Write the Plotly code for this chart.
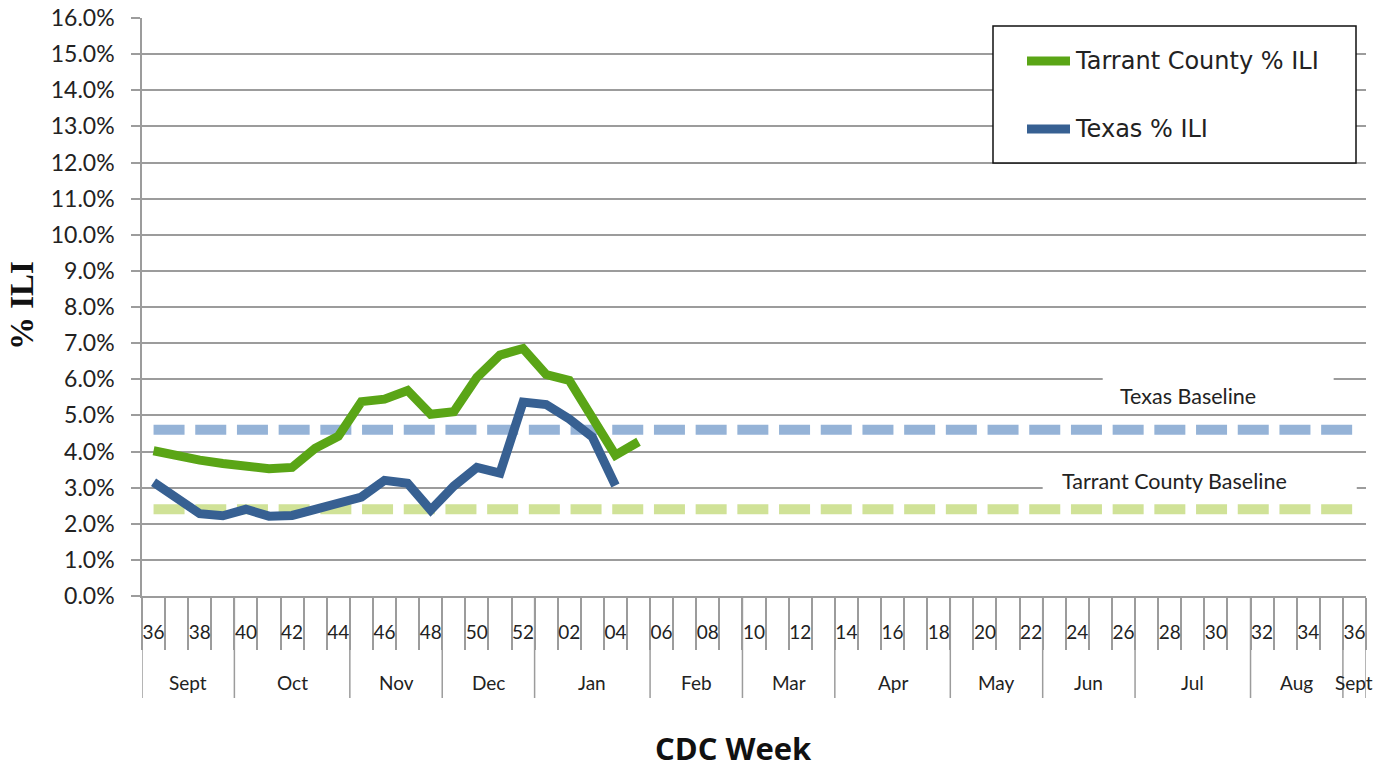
import plotly.graph_objects as go

# ---------------- data ----------------
weeks = ["36", "37", "38", "39", "40", "41", "42", "43", "44", "45", "46", "47", "48",
         "49", "50", "51", "52", "01", "02", "03", "04", "05", "06", "07", "08", "09",
         "10", "11", "12", "13", "14", "15", "16", "17", "18", "19", "20", "21", "22",
         "23", "24", "25", "26", "27", "28", "29", "30", "31", "32", "33", "34", "35", "36"]

tarrant_ili = [4.02, 3.88, 3.76, 3.67, 3.60, 3.52, 3.56, 4.09, 4.42, 5.38, 5.45, 5.69,
               5.03, 5.10, 6.05, 6.67, 6.85, 6.13, 5.97, 4.90, 3.90, 4.27]
texas_ili = [3.15, 2.72, 2.28, 2.22, 2.40, 2.21, 2.23, 2.40, 2.57, 2.74, 3.20, 3.12,
             2.38, 3.04, 3.56, 3.40, 5.37, 5.30, 4.90, 4.40, 3.06]

texas_baseline = 4.6
tarrant_baseline = 2.4

months = ["Sept", "Oct", "Nov", "Dec", "Jan", "Feb", "Mar", "Apr", "May", "Jun", "Jul", "Aug", "Sept"]
month_weeks = [4, 5, 4, 4, 5, 4, 4, 5, 4, 4, 5, 4, 1]

y_ticks = [i for i in range(0, 17)]

# ---------------- styling ----------------
GREEN = "#5AA516"
BLUE = "#376092"
LBLUE = "#95B3D7"
LGREEN = "#D0E297"
GRID = "#9C9C9C"
TXT = "#222222"

n = len(weeks)
xs = list(range(n))

fig = go.Figure()

fig.add_trace(go.Scatter(x=xs, y=[texas_baseline / 100] * n, mode="lines",
                         line=dict(color=LBLUE, width=10, dash="31px,10.7px"),
                         name="Texas Baseline", showlegend=False, hoverinfo="skip"))
fig.add_trace(go.Scatter(x=xs, y=[tarrant_baseline / 100] * n, mode="lines",
                         line=dict(color=LGREEN, width=10, dash="31px,10.7px"),
                         name="Tarrant County Baseline", showlegend=False, hoverinfo="skip"))
fig.add_trace(go.Scatter(x=xs[:len(tarrant_ili)], y=[v / 100 for v in tarrant_ili],
                         mode="lines", line=dict(color=GREEN, width=9),
                         name="Tarrant County % ILI", showlegend=False))
fig.add_trace(go.Scatter(x=xs[:len(texas_ili)], y=[v / 100 for v in texas_ili],
                         mode="lines", line=dict(color=BLUE, width=9),
                         name="Texas % ILI", showlegend=False))

# month boundaries + labels
shapes = []
annotations = []
start = -0.5
bounds = [start]
for m, w in zip(months, month_weeks):
    end = start + w
    annotations.append(dict(x=(start + end) / 2, y=-0.1505, xref="x", yref="paper",
                            text=m, showarrow=False, yanchor="middle",
                            font=dict(family="Lato", size=19, color=TXT)))
    bounds.append(end)
    start = end
for b in bounds:
    shapes.append(dict(type="line", xref="x", yref="paper", x0=b, x1=b, y0=0, y1=-0.1765,
                       line=dict(color=GRID, width=1.5), layer="above"))

# white boxes behind baseline labels (cover grid)
shapes.append(dict(type="rect", xref="x", yref="y", x0=41.1, x1=51.1, y0=0.051, y1=0.0615,
                   fillcolor="white", line=dict(width=0), layer="between"))
shapes.append(dict(type="rect", xref="x", yref="y", x0=38.5, x1=52.1, y0=0.027, y1=0.036,
                   fillcolor="white", line=dict(width=0), layer="between"))
annotations.append(dict(x=44.8, y=0.0554, xref="x", yref="y", text="Texas Baseline",
                        showarrow=False, font=dict(family="Lato", size=21.5, color=TXT)))
annotations.append(dict(x=44.2, y=0.0319, xref="x", yref="y", text="Tarrant County Baseline",
                        showarrow=False, font=dict(family="Lato", size=21.5, color=TXT)))


# legend (manual box)
def px_x(p):
    return (p - 142) / 1224


def px_y(p):
    return (596 - p) / 578


shapes.append(dict(type="rect", xref="paper", yref="paper", x0=px_x(993), x1=px_x(1356),
                   y0=px_y(163), y1=px_y(26), fillcolor="white",
                   line=dict(color="#111111", width=1.5), layer="above"))
for yy, col, label in [(61, GREEN, "Tarrant County % ILI"), (129, BLUE, "Texas % ILI")]:
    shapes.append(dict(type="line", xref="paper", yref="paper", x0=px_x(1027), x1=px_x(1070),
                       y0=px_y(yy), y1=px_y(yy), line=dict(color=col, width=9), layer="above"))
    annotations.append(dict(x=px_x(1073), y=px_y(yy), xref="paper", yref="paper", text=label,
                            showarrow=False, xanchor="left", yanchor="middle",
                            font=dict(family="DejaVu Sans", size=24, color=TXT)))

# axis titles
annotations.append(dict(x=px_x(22), y=px_y(306), xref="paper", yref="paper", text="<b>% ILI</b>",
                        showarrow=False, textangle=-90, xanchor="center", yanchor="middle",
                        font=dict(family="Liberation Serif", size=33, color="#111111")))
annotations.append(dict(x=px_x(733), y=px_y(748), xref="paper", yref="paper", text="<b>CDC Week</b>",
                        showarrow=False, xanchor="center", yanchor="middle",
                        font=dict(family="Open Sans", size=31, color="#111111")))

fig.update_layout(
    width=1392, height=770,
    margin=dict(l=142, r=26, t=18, b=174, autoexpand=False),
    paper_bgcolor="white", plot_bgcolor="white",
    shapes=shapes, annotations=annotations,
    showlegend=False,
)

fig.update_xaxes(
    range=[-0.5, n - 0.5],
    tickmode="array",
    tickvals=xs[::2],
    ticktext=weeks[::2],
    ticks="",
    showgrid=False,
    zeroline=False,
    automargin=False,
    showline=True, linecolor=GRID, linewidth=1.5,
    tickfont=dict(family="Lato", size=19, color=TXT),
    ticklabelstandoff=18,
    minor=dict(tickmode="array", tickvals=[b - 0.5 for b in range(n + 1)],
               ticks="outside", ticklen=52, tickcolor=GRID, tickwidth=1.5, showgrid=False),
)
fig.update_yaxes(
    range=[0, 0.16],
    tickmode="array",
    tickvals=[t / 100 for t in y_ticks],
    tickformat=".1%",
    ticks="outside", ticklen=9, tickcolor=GRID, tickwidth=1.5,
    showgrid=True, gridcolor=GRID, gridwidth=1.5,
    zeroline=False,
    automargin=False,
    showline=True, linecolor=GRID, linewidth=1.5,
    tickfont=dict(family="Lato", size=23, color=TXT),
    ticklabelstandoff=12,
)

fig.write_html("out.html", config={"displayModeBar": False},
               post_script="document.body.style.margin='0';document.body.style.padding='0';")
